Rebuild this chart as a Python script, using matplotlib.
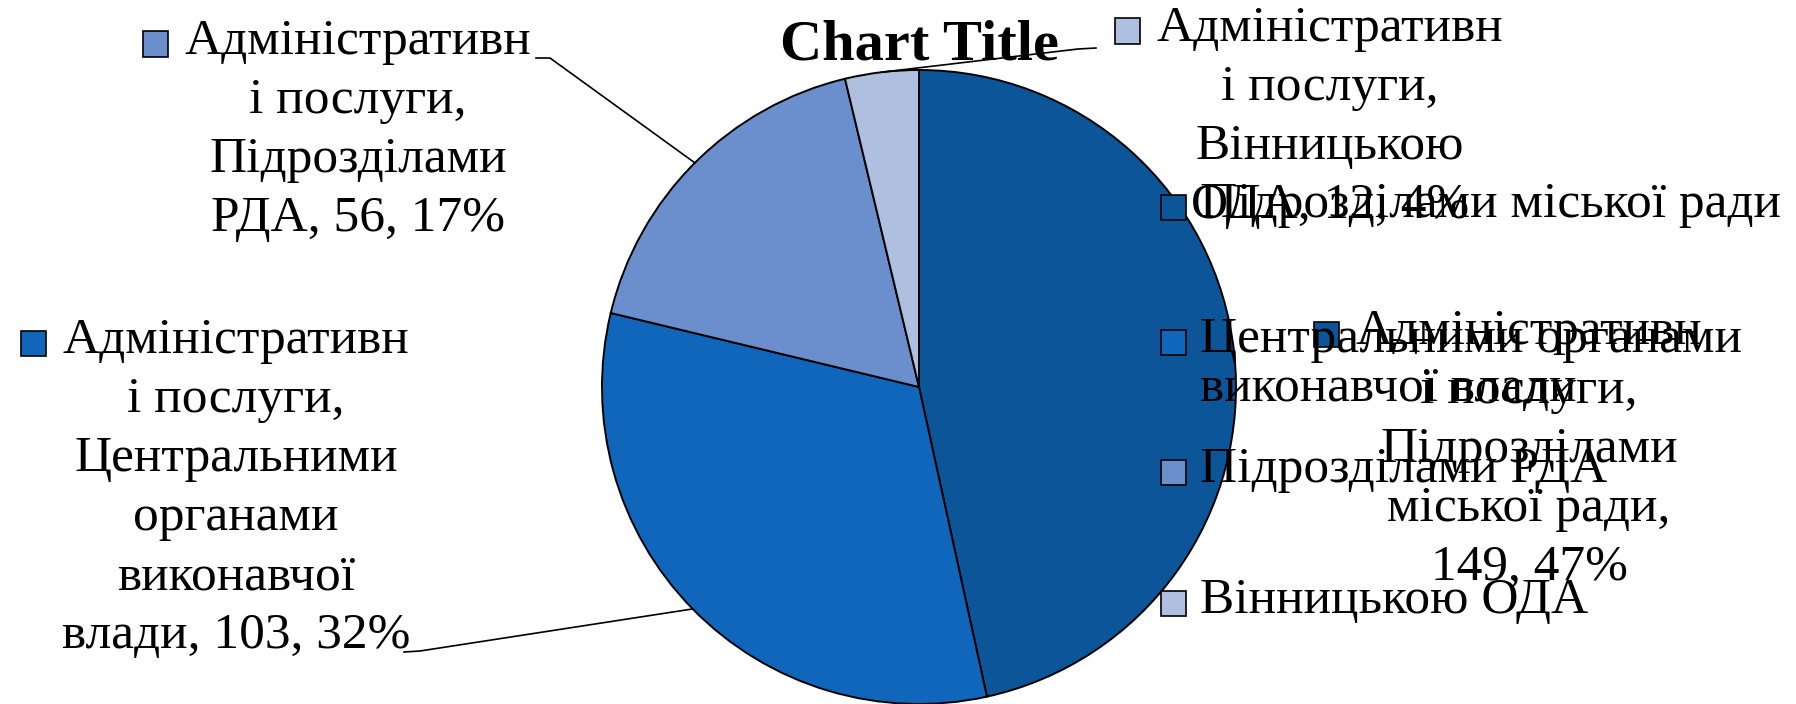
import numpy as np
import matplotlib
matplotlib.use("Agg")
import matplotlib.pyplot as plt
from matplotlib.patches import Rectangle
from matplotlib.lines import Line2D

# data
categories = ["Підрозділами міської ради",
              "Центральними органами виконавчої влади",
              "Підрозділами РДА",
              "Вінницькою ОДА"]
values = [149, 103, 56, 12]
percents = ["47%", "32%", "17%", "4%"]
colors = ["#0C5598", "#0F66BA", "#6A8FCC", "#AEBFE0"]

# wrapped label text, as the chart shows it
label_lines = [
    ["Адміністративн", "і послуги,", "Підрозділами", "міської ради,", "149, 47%"],
    ["Адміністративн", "і послуги,", "Центральними", "органами", "виконавчої", "влади, 103, 32%"],
    ["Адміністративн", "і послуги,", "Підрозділами", "РДА, 56, 17%"],
    ["Адміністративн", "і послуги,", "Вінницькою", "ОДА, 12, 4%"],
]
legend_lines = [
    ["Підрозділами міської ради"],
    ["Центральними органами", "виконавчої влади"],
    ["Підрозділами РДА"],
    ["Вінницькою ОДА"],
]

W, H = 1796, 704
plt.rcParams['font.family'] = ['Liberation Serif', 'DejaVu Serif']
fs = 37

fig = plt.figure(figsize=(W / 100, H / 100), dpi=100)
fig.patch.set_facecolor("white")

def fx(px):
    return px / W

def fy(py):
    return 1 - py / H

# pie
cx, cy, r = 919, 387, 317
ax = fig.add_axes([fx(cx - r), fy(cy + r), 2 * r / W, 2 * r / H])
wedges, _ = ax.pie(values, colors=colors, startangle=90, counterclock=False,
                   wedgeprops=dict(edgecolor="black", linewidth=1.4))
ax.set_xlim(-1, 1)
ax.set_ylim(-1, 1)
ax.axis("off")

fig.text(fx(919), fy(46), "Chart Title", fontsize=42, fontweight="bold",
         ha="center", va="center")

def square(px, py, color, size=25):
    fig.add_artist(Rectangle((fx(px), fy(py + size / 2)), size / W, size / H,
                             transform=fig.transFigure, facecolor=color,
                             edgecolor="black", linewidth=1.2))

# data labels: (center x, first line y)
label_pos = [(1529, 332), (236, 341), (358, 42), (1330, 29)]
pitch = 59
renderer = fig.canvas.get_renderer()
for i, lines in enumerate(label_lines):
    x0, y0 = label_pos[i]
    for k, s in enumerate(lines):
        t = fig.text(fx(x0), fy(y0 + k * pitch), s, fontsize=fs,
                     ha="center", va="center")
        if k == 0:
            bb = t.get_window_extent(renderer=renderer)
            square(bb.x0 - 42, y0 + 2, colors[i])

# leader lines: label end -> middle of the wedge edge
leader_start = {1: [(404, 652), (420, 651)],
                2: [(536, 58), (550, 58)],
                3: [(1096, 48), (1078, 49)]}
for i, pts in leader_start.items():
    w = wedges[i]
    a = np.deg2rad((w.theta1 + w.theta2) / 2)
    ex, ey = ax.transData.transform((np.cos(a), np.sin(a)))
    xs = [fx(p[0]) for p in pts] + [ex / W]
    ys = [fy(p[1]) for p in pts] + [ey / H]
    fig.add_artist(Line2D(xs, ys, transform=fig.transFigure, color="black",
                          linewidth=1.2))

# legend
legend_y = [205, 340, 470, 601]
for i, lines in enumerate(legend_lines):
    square(1161, legend_y[i] + 2, colors[i])
    for k, s in enumerate(lines):
        fig.text(fx(1200), fy(legend_y[i] + k * 49), s, fontsize=fs,
                 ha="left", va="center")

fig.savefig("out.png", dpi=100, facecolor="white")
